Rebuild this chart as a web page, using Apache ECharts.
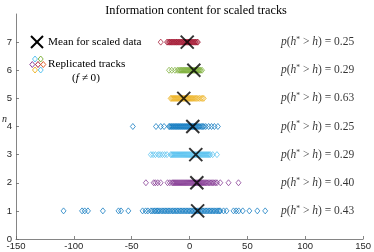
<!DOCTYPE html>
<html><head><meta charset="utf-8">
<script src="https://cdn.jsdelivr.net/npm/echarts@6/dist/echarts.min.js"></script>
<style>html,body{margin:0;padding:0;background:#fff}#c{width:374px;height:252px}</style>
</head><body><div id="c"></div>
<script>
var rowN = [1,2,3,4,5,6,7];
var rowColors = ['#0072BD','#7E2F8E','#4DBEEE','#0072BD','#EDB120','#77AC30','#A2142F'];
var row1 = [-108.9,-92.9,-90.6,-87.8,-74.9,-61.4,-59.2,-52.9,-40.6,-38,-36,-33.5,-32.2,-30.6,-29.5,-28.1,-27,-25.8,-24.3,-23,-21.6,-20.4,-19,-17.8,-16.5,-15,-13.9,-12.5,-11.2,-10,-8.6,-7.4,-6.1,-4.8,-3.5,-2.3,-1,0.2,1.5,2.8,4,5.3,6.6,7.8,9.1,10.4,11.6,12.9,14.2,15.4,16.8,18,19.3,20.6,21.8,23.2,24.5,25.7,26.6,29.4,32,38,40.3,42.5,46,51.7,58.6,65.4];
var row2 = [-37.7,-31,-29.5,-27.5,-25,-19,-17,-15,-14.1,-13.2,-12.3,-11.4,-10.5,-9.6,-8.7,-7.8,-6.9,-6,-5.1,-4.2,-3.3,-2.4,-1.5,-0.6,0.3,1.2,2.1,3,3.9,4.8,5.7,6.6,7.5,8.4,9.3,10.2,11.1,12,13,14,15,16.2,17.4,18.6,19.8,21,22.4,23.7,26.6,33.7,42.3];
var row3 = [-33.4,-31.5,-29.5,-27,-25.5,-23.5,-21.5,-19.5,-16.3,-15.4,-14.5,-13.6,-12.7,-11.8,-10.9,-10,-9.1,-8.2,-7.3,-6.4,-5.5,-4.6,-3.7,-2.8,-1.9,-1,-0.1,0.8,1.7,2.6,3.5,4.4,5.3,6.2,7.1,8,8.9,9.8,10.7,11.6,12.5,13.4,14.3,15.2,16.1,17,18,20,23.7];
var row4 = [-49,-29,-24.9,-22,-17.7,-17,-16,-15.2,-14.3,-13.5,-12.6,-11.8,-11,-10.1,-9.3,-8.4,-7.6,-6.7,-5.9,-5,-4.2,-3.3,-2.5,-1.6,-0.8,0.1,0.9,1.8,2.6,3.5,4.3,5.2,6,7,8,9,10.2,11.3,12.3,14,16.5,19,21.5,24.5];
var row5 = [-16.3,-15.5,-14.6,-13.8,-13,-12.2,-11.4,-10.6,-9.8,-9,-8.2,-7.4,-6.6,-5.8,-5,-4.2,-3.4,-2.6,-1.8,-1,-0.2,0.6,1.4,2.2,3,4,5,6,7.2,8.5,10,11.2,12.3];
var row6 = [-17.7,-15.4,-12.6,-10.5,-9.2,-8.2,-7.3,-6.5,-5.6,-4.8,-4,-3.2,-2.4,-1.6,-0.8,0,0.8,1.6,2.4,3.2,4,4.8,5.6,6.4,7.2,8,8.8,9.6,10.8];
var row7 = [-24.9,-19.5,-18.5,-17.5,-17,-16,-15.5,-14.5,-14,-13,-12.5,-11.5,-11,-10,-9.5,-8.5,-8,-7,-6.5,-5.5,-5,-4,-3.5,-2.5,-2,-1,-0.5,0.5,1,2,2.5,3.5,4,5,5.5,6.5,7.2];
var rows = [row1,row2,row3,row4,row5,row6,row7];
var means = [7, 6.3, 5.4, 2.8, -5, 3.7, -2];
var pValues = ['0.43','0.40','0.29','0.25','0.63','0.29','0.25'];
var pLabelX = 79;
var xTicks = [-150,-100,-50,0,50,100,150];
var yTicks = [0,1,2,3,4,5,6,7];

var chart = echarts.init(document.getElementById('c'));
var series = [];
rows.forEach(function(r, i){
  series.push({
    type:'scatter', symbol:'diamond', symbolSize:[5,6],
    itemStyle:{color:'rgba(0,0,0,0)', borderColor:rowColors[i], borderWidth:0.9},
    data:r.map(function(v){return [v, rowN[i]];}),
    silent:true, z:2
  });
});
series.push({
  type:'scatter', symbol:'path://M0,0L10,10M10,0L0,10', symbolSize:13,
  itemStyle:{color:'rgba(0,0,0,0)', borderColor:'#000', borderWidth:2},
  data:means.map(function(v,i){return [v, rowN[i]];}), z:5, silent:true
});
series.push({
  type:'scatter', symbolSize:0,
  data:pValues.map(function(p,i){return [pLabelX, rowN[i], p];}),
  label:{show:true, position:'right', distance:0,
    formatter:function(d){return '{i|p}(' + '{i|h}{s|*} > {i|h}) = ' + d.value[2];},
    fontFamily:'Liberation Serif', fontSize:11.5, color:'#000',
    rich:{i:{fontStyle:'italic', fontFamily:'Liberation Serif', fontSize:11.5, color:'#000'},
          s:{fontFamily:'Liberation Serif', fontSize:7.5, verticalAlign:'top', color:'#000', padding:[0,0,4,0]}}
  },
  silent:true, z:3
});

var legendDiamonds = [
  [35,59,'#4DBEEE'],[40.7,59,'#77AC30'],
  [32.3,64.5,'#7E2F8E'],[38,64.5,'#A2142F'],[43.3,64.5,'#D95319'],
  [35,70,'#EDB120'],[40.7,70,'#4DBEEE']
];
var graphics = [
  {type:'line', shape:{x1:31,y1:36,x2:43,y2:48}, style:{stroke:'#000', lineWidth:2}},
  {type:'line', shape:{x1:43,y1:36,x2:31,y2:48}, style:{stroke:'#000', lineWidth:2}},
  {type:'text', x:48, y:42, style:{text:'Mean for scaled data', font:'11.2px "Liberation Serif"', fill:'#000', verticalAlign:'middle'}},
  {type:'text', x:48, y:64, style:{text:'Replicated tracks', font:'11.2px "Liberation Serif"', fill:'#000', verticalAlign:'middle'}},
  {type:'text', x:86, y:78, style:{
    text:'({i|f} ≠ 0)', font:'11.2px "Liberation Serif"', fill:'#000', align:'center', verticalAlign:'middle',
    rich:{i:{fontStyle:'italic', fontFamily:'Liberation Serif', fontSize:11.2}}}},
  {type:'text', x:2, y:119, style:{text:'n', font:'italic 10px "Liberation Serif"', fill:'#262626', verticalAlign:'middle'}}
];
legendDiamonds.forEach(function(d){
  graphics.push({type:'polygon', shape:{points:[[d[0],d[1]-3],[d[0]+2.5,d[1]],[d[0],d[1]+3],[d[0]-2.5,d[1]]]},
    style:{fill:'none', stroke:d[2], lineWidth:0.9}});
});

chart.setOption({
  animation:false,
  title:{text:'Information content for scaled tracks', left:191, top:0, textAlign:'center',
    textStyle:{fontFamily:'Liberation Serif', fontSize:12.3, fontWeight:'normal', color:'#000'}},
  grid:{left:16, right:8, top:14, bottom:13, containLabel:false},
  xAxis:{type:'value', min:-150, max:150, interval:50,
    axisLine:{show:true, onZero:false, lineStyle:{color:'#666', width:0.8}},
    axisTick:{show:true, inside:true, length:3, lineStyle:{color:'#666', width:0.8}},
    axisLabel:{show:true, margin:2, fontFamily:'Liberation Sans', fontSize:9.5, color:'#262626',
      customValues:xTicks},
    splitLine:{show:false}},
  yAxis:{type:'value', min:0, max:8, interval:1,
    axisLine:{show:true, onZero:false, lineStyle:{color:'#666', width:0.8}},
    axisTick:{show:true, inside:true, length:3, lineStyle:{color:'#666', width:0.8}, customValues:yTicks},
    axisLabel:{show:true, margin:4, fontFamily:'Liberation Sans', fontSize:9.5, color:'#262626', customValues:yTicks},
    splitLine:{show:false}},
  graphic:graphics,
  series:series
});
</script></body></html>
